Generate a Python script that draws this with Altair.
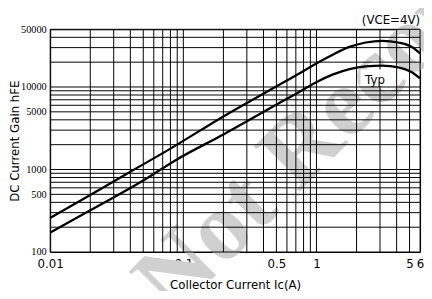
import altair as alt
import pandas as pd

# ---- data ----
ic_upper = [0.01, 0.02, 0.04, 0.0772, 0.2, 0.572, 0.759, 1.005, 1.333, 1.77, 2.344, 3.11, 4.12, 5.17, 6.0]
hfe_upper = [259, 490, 940, 1730, 4400, 11500, 14900, 19400, 24800, 30600, 34600, 36300, 34600, 30800, 25600]

ic_lower = [0.01, 0.02, 0.05, 0.0888, 0.2, 0.572, 0.759, 1.005, 1.333, 1.77, 2.344, 3.11, 4.12, 5.17, 6.0]
hfe_lower = [172, 320, 735, 1315, 2660, 6900, 8900, 11500, 14200, 16500, 17800, 18100, 17300, 15200, 12700]

grid_x = [0.01, 0.02, 0.03, 0.04, 0.05, 0.06, 0.07, 0.08, 0.09,
          0.1, 0.2, 0.3, 0.4, 0.5, 0.6, 0.7, 0.8, 0.9,
          1, 2, 3, 4, 5, 6]
grid_y = [100, 200, 300, 400, 500, 600, 700, 800, 900,
          1000, 2000, 3000, 4000, 5000, 6000, 7000, 8000, 9000,
          10000, 20000, 30000, 40000, 50000]
x_labels = [0.01, 0.1, 0.5, 1, 5, 6]
y_labels = [100, 500, 1000, 5000, 10000, 50000]

x_title = "Collector Current Ic(A)"
y_title = "DC Current Gain hFE"

curves = pd.DataFrame(
    {"ic": ic_upper + ic_lower,
     "hfe": hfe_upper + hfe_lower,
     "series": ["upper"] * len(ic_upper) + ["typ"] * len(ic_lower)}
)
gx = pd.DataFrame({"ic": grid_x})
gy = pd.DataFrame({"hfe": grid_y})

vce_note = pd.DataFrame({"ic": [6.0], "hfe": [57800], "label": ["(VCE=4V)"]})
typ_note = pd.DataFrame({"ic": [2.75], "hfe": [10800], "label": ["Typ"]})
typ_box = pd.DataFrame({"ic": [2.14], "ic2": [3.5], "hfe": [10300], "hfe2": [16300]})
watermark = pd.DataFrame({"ic": [0.058], "hfe": [28], "label": ["Not Recommended"]})

xscale = alt.Scale(type="log", domain=[0.01, 6], nice=False)
yscale = alt.Scale(type="log", domain=[100, 50000], nice=False)

xaxis = alt.Axis(values=x_labels, format="~g", grid=False, ticks=False, tickSize=0,
                 domain=False, labelFlush=False, labelOverlap=False, labelPadding=7,
                 title=x_title, titlePadding=10)
yaxis = alt.Axis(values=y_labels, format="~g", grid=False, ticks=False, tickSize=0,
                 domain=False, labelFlush=False, labelOverlap=False, labelPadding=4,
                 title=y_title, titleX=-32, titleBaseline="alphabetic")


def X(f="ic"):
    return alt.X(f"{f}:Q", scale=xscale, axis=xaxis)


def Y(f="hfe"):
    return alt.Y(f"{f}:Q", scale=yscale, axis=yaxis)


wm = alt.Chart(watermark).mark_text(
    font="Liberation Serif", fontWeight="bold", fontSize=100, color="#d0d0d0",
    angle=315, align="left", baseline="middle"
).encode(x=X(), y=Y(), text="label:N")

vgrid = alt.Chart(gx).mark_rule(color="black", strokeWidth=1).encode(x=X())
hgrid = alt.Chart(gy).mark_rule(color="black", strokeWidth=1).encode(y=Y())

box = alt.Chart(typ_box).mark_rect(color="white").encode(
    x=X(), x2="ic2:Q", y=Y(), y2="hfe2:Q")

lines = alt.Chart(curves).mark_line(color="black", strokeWidth=2.3, interpolate="monotone").encode(
    x=X(), y=Y(), detail="series:N")

note_vce = alt.Chart(vce_note).mark_text(
    font="DejaVu Sans", fontSize=12, color="black", baseline="alphabetic", align="right"
).encode(x=X(), y=Y(), text="label:N")
note_typ = alt.Chart(typ_note).mark_text(
    font="DejaVu Sans", fontSize=12, color="black", baseline="alphabetic", align="center"
).encode(x=X(), y=Y(), text="label:N")

chart = alt.layer(wm, vgrid, hgrid, box, lines, note_vce, note_typ).properties(
    width=377, height=227,
    padding={"left": 43, "top": 19, "right": 4, "bottom": 37},
    autosize=alt.AutoSizeParams(type="none"),
    background="white",
).configure_view(stroke="black", strokeWidth=1).configure_axis(
    labelColor="black", titleColor="black", titleFontWeight="normal",
    titleFont="DejaVu Sans", titleFontSize=12,
).configure_axisX(labelFont="DejaVu Sans", labelFontSize=12).configure_axisY(
    labelFont="Liberation Sans Narrow", labelFontSize=10.5)

chart.save("out.html", embed_options={"renderer": "svg", "actions": False})
